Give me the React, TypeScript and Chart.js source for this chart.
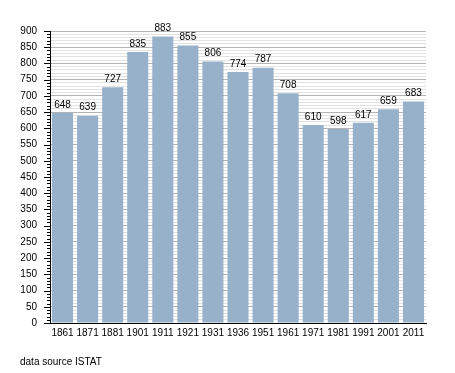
import React, { useEffect, useRef } from "react";
import { Chart, registerables } from "chart.js";

Chart.register(...registerables);

const years = ["1861", "1871", "1881", "1901", "1911", "1921", "1931", "1936", "1951", "1961", "1971", "1981", "1991", "2001", "2011"];
const population = [648, 639, 727, 835, 883, 855, 806, 774, 787, 708, 610, 598, 617, 659, 683];
const yMin = 0;
const yMax = 900;
const minorStep = 10;
const majorStep = 50;
const sourceText = "data source ISTAT";

const FONT = "'Liberation Sans', Arial, Helvetica, sans-serif";

const valueLabels = {
  id: "valueLabels",
  afterDatasetsDraw(chart: any) {
    const ctx = chart.ctx;
    const meta = chart.getDatasetMeta(0);
    ctx.save();
    ctx.font = `10px ${FONT}`;
    ctx.fillStyle = "#000";
    ctx.textAlign = "center";
    ctx.textBaseline = "bottom";
    meta.data.forEach((el: any, i: number) => {
      ctx.fillText(String(population[i]), el.x, el.y - 3);
    });
    ctx.restore();
  },
};

const yTickMarks = {
  id: "yTickMarks",
  afterDraw(chart: any) {
    const ctx = chart.ctx;
    const y = chart.scales.y;
    const left = chart.chartArea.left;
    ctx.save();
    ctx.strokeStyle = "#000";
    ctx.lineWidth = 1;
    y.ticks.forEach((t: any) => {
      const py = Math.round(y.getPixelForValue(t.value)) + 0.5;
      const len = t.value % majorStep === 0 ? 6 : 3;
      ctx.beginPath();
      ctx.moveTo(left - len, py);
      ctx.lineTo(left, py);
      ctx.stroke();
    });
    ctx.restore();
  },
};

export default function App() {
  const ref = useRef<HTMLCanvasElement>(null);
  useEffect(() => {
    if (!ref.current) return;
    const chart = new Chart(ref.current, {
      type: "bar",
      data: {
        labels: years,
        datasets: [
          {
            data: population,
            backgroundColor: "#98b1cb",
            borderWidth: 0,
            barPercentage: 0.84,
            categoryPercentage: 1,
          },
        ],
      },
      options: {
        animation: false,
        responsive: false,
        maintainAspectRatio: false,
        layout: { padding: { left: 0, right: 29, top: 31, bottom: 30 } },
        plugins: {
          legend: { display: false },
          tooltip: { enabled: false },
          title: { display: false },
        },
        scales: {
          x: {
            grid: { display: false, drawTicks: false },
            border: { display: true, color: "#000", width: 1 },
            ticks: {
              color: "#000",
              font: { family: FONT, size: 10 },
              padding: 4,
              maxRotation: 0,
              autoSkip: false,
            },
            afterFit(scale: any) {
              scale.height = 20;
            },
          },
          y: {
            min: yMin,
            max: yMax,
            grid: {
              color: (c: any) => (c.tick && c.tick.value % majorStep === 0 ? "#b4b4b4" : "#e2e2e2"),
              tickColor: "rgba(0,0,0,0)",
              tickLength: 7,
              lineWidth: 1,
            },
            border: { display: true, color: "#000", width: 1 },
            ticks: {
              stepSize: minorStep,
              autoSkip: false,
              color: "#000",
              font: { family: FONT, size: 10 },
              padding: 6,
              callback: (v: any) => (Number(v) % majorStep === 0 ? String(v) : ""),
            },
            afterFit(scale: any) {
              scale.width = 50;
            },
          },
        },
      },
      plugins: [valueLabels, yTickMarks],
    });
    return () => chart.destroy();
  }, []);
  return (
    <div style={{ position: "fixed", left: 0, top: 0, width: 455, height: 373, background: "#fff" }}>
      <canvas ref={ref} width={455} height={373} style={{ display: "block", width: 455, height: 373 }} />
      <div
        style={{
          position: "absolute",
          left: 20,
          top: 356,
          fontFamily: FONT,
          fontSize: 10,
          color: "#000",
          lineHeight: "12px",
          whiteSpace: "nowrap",
        }}
      >
        {sourceText}
      </div>
    </div>
  );
}
